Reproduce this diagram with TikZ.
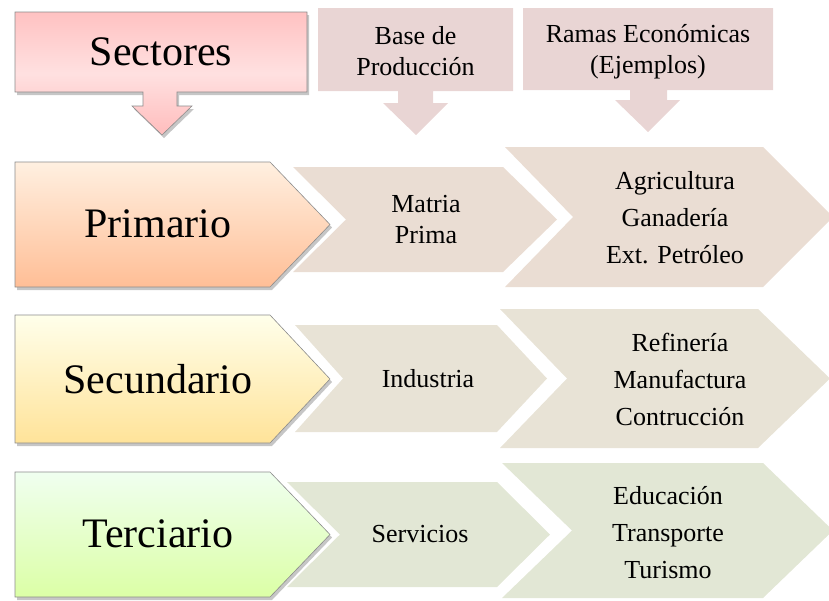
\documentclass[tikz,border=0pt]{standalone}
\usepackage{fontspec}
\setmainfont{Liberation Serif}
\usetikzlibrary{shadows}
\definecolor{hdrfill}{HTML}{E9D5D4}
\definecolor{rowA}{HTML}{EADDD3}
\definecolor{rowB}{HTML}{E8E3D6}
\definecolor{rowC}{HTML}{E2E7D5}
\definecolor{edgegray}{HTML}{8C8C8C}
\tikzset{
  big/.style={font=\fontsize{42}{46}\selectfont, inner sep=0pt},
  small/.style={font=\fontsize{26}{31}\selectfont, align=center, inner sep=0pt},
  list/.style={font=\fontsize{26}{37}\selectfont, align=center, inner sep=0pt},
  hdr/.style={fill=hdrfill, draw=none},
  lead/.style={draw=edgegray, line width=0.6pt,
     drop shadow={opacity=0.45, shadow xshift=2pt, shadow yshift=-3pt}},
}
\begin{document}
\begin{tikzpicture}[x=1pt,y=-1pt]
\useasboundingbox (0,0) rectangle (829,600);
% header: Sectores
\path[lead, top color=pink!75!red!55, bottom color=pink!70!red!55, middle color=red!12]
  (15,12) -- (307,12) -- (307,92) -- (177,92) -- (177,106) -- (192,106) -- (162,135)
  -- (132,106) -- (143,106) -- (143,92) -- (15,92) -- cycle;
\node[big] (sect) at (161,52) {Sectores};
% header: Base de Produccion
\path[hdr] (318,8) -- (513,8) -- (513,91) -- (433,91) -- (433,103) -- (448,103) -- (416,135)
  -- (383,103) -- (398,103) -- (398,91) -- (318,91) -- cycle;
\node[small] (base) at (415.5,51) {Base de\\Producción};
% header: Ramas
\path[hdr] (523,8) -- (773,8) -- (773,90) -- (667,90) -- (667,100) -- (680,100) -- (648,132)
  -- (615,100) -- (630,100) -- (630,90) -- (523,90) -- cycle;
\node[small] (ramas) at (648,52) {Ramas Económicas\\(Ejemplos)};
% row 1
\path[fill=rowA] (505,147) -- (763,147) -- (833,217) -- (763,287) -- (505,287) -- (573,217) -- cycle;
\path[fill=rowA] (293,167) -- (503,167) -- (557,219.5) -- (503,272) -- (293,272) -- (346,219.5) -- cycle;
\path[lead, top color=orange!12!white, bottom color=orange!45!pink!70]
  (15,162) -- (270,162) -- (330,224.5) -- (270,287) -- (15,287) -- cycle;
\node[big] (prim) at (158,224) {Primario};
\node[small] (mp) at (426,220) {Matria\\Prima};
\node[list] (r1) at (675,218) {Agricultura\\Ganadería\\Ext. Petróleo};
% row 2
\path[fill=rowB] (500,309) -- (758,309) -- (830,378.5) -- (758,448) -- (500,448) -- (567,378.5) -- cycle;
\path[fill=rowB] (295,325) -- (497,325) -- (547,378.5) -- (497,432) -- (295,432) -- (343,378.5) -- cycle;
\path[lead, top color=yellow!8!white, bottom color=yellow!45!orange!40]
  (15,315) -- (270,315) -- (330,379) -- (270,443) -- (15,443) -- cycle;
\node[big] (sec) at (158,379) {Secundario};
\node[small] (ind) at (428,379) {Industria};
\node[list] (r2) at (680,379) {Refinería\\Manufactura\\Contrucción};
% row 3
\path[fill=rowC] (502,463) -- (763,463) -- (833,530.5) -- (763,598) -- (502,598) -- (572,530.5) -- cycle;
\path[fill=rowC] (287,482) -- (497,482) -- (550,534.5) -- (497,587) -- (287,587) -- (340,534.5) -- cycle;
\path[lead, top color=green!6!white, bottom color=green!40!yellow!35]
  (15,472) -- (270,472) -- (330,534.5) -- (270,597) -- (15,597) -- cycle;
\node[big] (ter) at (158,534) {Terciario};
\node[small] (serv) at (420,534) {Servicios};
\node[list] (r3) at (668,533) {Educación\\Transporte\\Turismo};
\end{tikzpicture}
\end{document}
